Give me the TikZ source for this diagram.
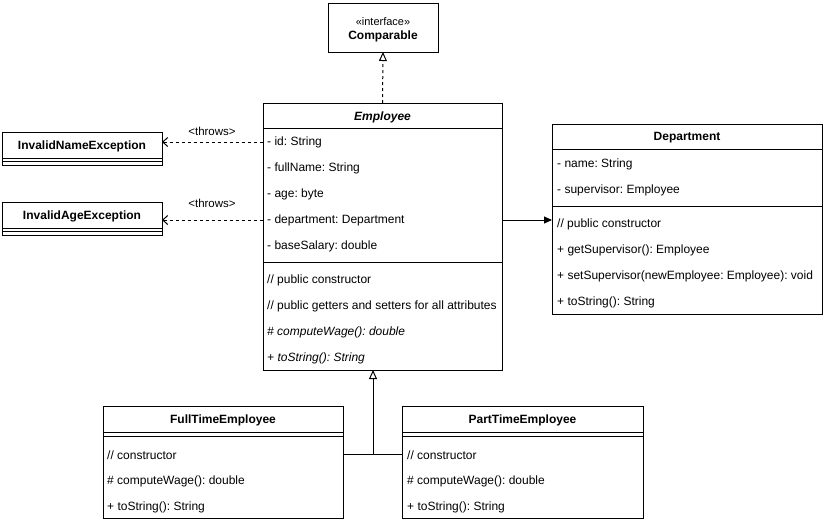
\documentclass[tikz,border=0pt]{standalone}
\usepackage{fontspec}
\setmainfont{Liberation Sans}
\usetikzlibrary{arrows.meta,positioning,calc}
\frenchspacing
\tikzset{
  klass/.style={draw,line width=1pt,anchor=north west,inner sep=0pt,outer sep=0pt},
  row/.style={anchor=west,inner sep=0pt,font=\fontsize{12}{14}\selectfont},
  kname/.style={inner sep=0pt,font=\fontsize{12}{14}\selectfont\bfseries},
  sep/.style={line width=1pt},
  dep/.style={dashed,line width=1pt,-{Straight Barb[length=5pt,width=9pt]}},
  real/.style={dashed,line width=1pt,-{Triangle[open,length=9pt,width=8pt]}},
  gen/.style={line width=1pt,-{Triangle[open,length=9pt,width=8pt]}},
  asc/.style={line width=1pt,-{Triangle[length=8pt,width=7pt]}},
  lbl/.style={inner sep=0pt,font=\fontsize{11.5}{13}\selectfont},
}

\begin{document}
\begin{tikzpicture}[x=1pt,y=-1pt]
  \useasboundingbox (0,0) rectangle (824,520);
  % interface
  \node[klass,minimum width=110,minimum height=49] (comp) at (328,3) {};
  \node[lbl,font=\fontsize{11}{13}\selectfont] (compst) at (383,21.5) {«interface»};
  \node[kname] (compname) at (383,36.5) {Comparable};

  % exceptions
  \node[klass,minimum width=160,minimum height=33] (nameexc) at (2,132) {};
  \node[kname] at (82,146) {InvalidNameException};
  \draw[sep] (2,158) -- (162,158);
  \draw[sep] (2,161.5) -- (162,161.5);
  \node[klass,minimum width=160,minimum height=33] (ageexc) at (2,202) {};
  \node[kname] at (82,216) {InvalidAgeException};
  \draw[sep] (2,228) -- (162,228);
  \draw[sep] (2,231.5) -- (162,231.5);

  % Employee
  \node[klass,minimum width=239,minimum height=267] (emp) at (263,103) {};
  \node[kname,font=\fontsize{12}{14}\selectfont\bfseries\itshape] at (382.5,117) {Employee};
  \draw[sep] (263,128.5) -- (502,128.5);
  \foreach \txt [count=\i from 0] in {- id: String,- fullName: String,- age: byte,
      - department: Department,- baseSalary: double}
    \node[row] (emp-a\i) at (267,{142+26*\i}) {\txt};
  \draw[sep] (263,262.5) -- (502,262.5);
  \foreach \txt [count=\i from 0] in {// public constructor,
      // public getters and setters for all attributes,
      \textit{\# computeWage(): double},\textit{+ toString(): String}}
    \node[row] (emp-m\i) at (267,{280+26*\i}) {\txt};

  % Department
  \node[klass,minimum width=270,minimum height=190] (dept) at (552,124) {};
  \node[kname] at (687,138) {Department};
  \draw[sep] (552,149.5) -- (822,149.5);
  \foreach \txt [count=\i from 0] in {- name: String,- supervisor: Employee}
    \node[row] (dept-a\i) at (557,{164+26*\i}) {\txt};
  \draw[sep] (552,206) -- (822,206);
  \foreach \txt [count=\i from 0] in {// public constructor,
      + getSupervisor(): Employee,
      + setSupervisor(newEmployee: Employee): void,+ toString(): String}
    \node[row] (dept-m\i) at (557,{224+26*\i}) {\txt};

  % subclasses
  \node[klass,minimum width=240,minimum height=112] (full) at (103,406) {};
  \node[kname] at (223,420) {FullTimeEmployee};
  \draw[sep] (103,432) -- (343,432);
  \draw[sep] (103,436) -- (343,436);
  \foreach \txt [count=\i from 0] in {// constructor,\# computeWage(): double,
      + toString(): String}
    \node[row] (full-m\i) at (107,{455+26*\i}) {\txt};

  \node[klass,minimum width=241,minimum height=112] (part) at (402,406) {};
  \node[kname] at (522.5,420) {PartTimeEmployee};
  \draw[sep] (402,432) -- (643,432);
  \draw[sep] (402,436) -- (643,436);
  \foreach \txt [count=\i from 0] in {// constructor,\# computeWage(): double,
      + toString(): String}
    \node[row] (part-m\i) at (407,{455+26*\i}) {\txt};

  % relations
  \draw[real] (emp.north) -- (comp.south);
  \draw[dep] (emp.west |- emp-a0) -- (emp-a0 -| nameexc.east);
  \node[lbl] (thr1) at (212,131.5) {\textless throws\textgreater};
  \draw[dep] (emp.west |- emp-a3) -- (emp-a3 -| ageexc.east);
  \node[lbl] (thr2) at (212,203.5) {\textless throws\textgreater};
  \draw[asc] (emp.east |- emp-a3) -- (emp-a3 -| dept.west);
  \coordinate (junc) at (373,454);
  \draw[sep] (junc -| full.east) -- (junc -| part.west);
  \draw[gen] (junc) -- (junc |- emp.south);
\end{tikzpicture}
\end{document}
